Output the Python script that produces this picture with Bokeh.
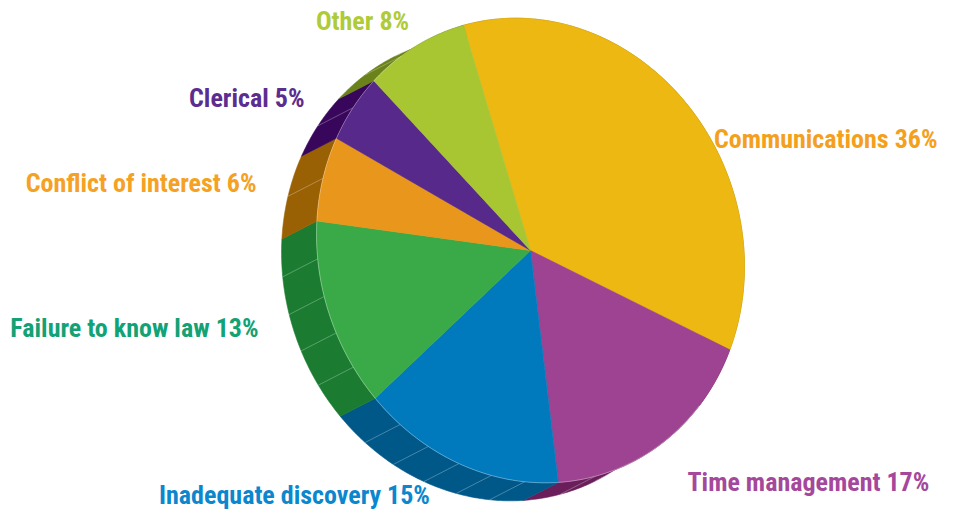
import numpy as np
from bokeh.plotting import figure
from bokeh.models import Range1d
from bokeh.core.properties import value
from bokeh.embed import file_html
from bokeh.resources import INLINE

# ---- data ----
categories = ["Communications", "Time management", "Inadequate discovery",
              "Failure to know law", "Conflict of interest", "Clerical", "Other"]
percents = [36, 17, 15, 13, 6, 5, 8]

# ---- styles ----
top_colors = ["#EDB811", "#9E4391", "#0079BD", "#3AAA48", "#E8961C", "#57298A", "#A8C532"]
side_colors = ["#9A7A05", "#6A1F5A", "#005889", "#1B7C31", "#9A6104", "#38075B", "#6A8219"]
label_colors = ["#F5A01C", "#A5489B", "#0C87CE", "#12A275", "#F5A124", "#5C2D90", "#AFCB38"]

# ---- layout (screen pixels, y down) ----
W, H = 939, 510
CX, CY = 530.0, 250.0
RA, RB = 235.0, 211.0
AX1, AX2 = np.deg2rad(340), np.deg2rad(70)
E1 = (np.sin(AX1), -np.cos(AX1))
E2 = (np.sin(AX2), -np.cos(AX2))
DX, DY = -35.0, 18.0
PSI0 = 3.8
FONT = "'Roboto Condensed', 'Liberation Sans Narrow', 'DejaVu Sans Condensed', sans-serif"
FSIZE = "26px"
# label anchors: (x, y, align)
label_pos = [(937, 138, "right"), (687, 481, "left"), (294, 494, "center"),
             (258, 327, "right"), (256, 182, "right"), (304, 97, "right"),
             (362, 20, "center")]


def rim(psi_deg):
    t = np.deg2rad(psi_deg)
    x = CX + RA * np.cos(t) * E1[0] + RB * np.sin(t) * E2[0]
    y = CY + RA * np.cos(t) * E1[1] + RB * np.sin(t) * E2[1]
    return x, y


p = figure(width=W, height=H, output_backend="svg", toolbar_location=None,
           x_range=Range1d(0, W), y_range=Range1d(H, 0),
           min_border=0, outline_line_color=None)
p.axis.visible = False
p.grid.visible = False
p.background_fill_color = "white"
p.border_fill_color = "white"

total = float(sum(percents))
starts, ends = [], []
acc = 0.0
for v in percents:
    starts.append(PSI0 + acc / total * 360.0)
    acc += v
    ends.append(PSI0 + acc / total * 360.0)

# side strips
side_xs, side_ys = [], []
for s, e in zip(starts, ends):
    ps = np.linspace(s, e, 80)
    x, y = rim(ps)
    side_xs.append(list(np.concatenate([x, (x + DX)[::-1]])))
    side_ys.append(list(np.concatenate([y, (y + DY)[::-1]])))
p.patches(xs=side_xs, ys=side_ys, fill_color=side_colors, line_color=side_colors,
          line_width=0.6)

# facet lines on side
fx, fy = [], []
for s, e in zip(starts, ends):
    n = max(2, int(round((e - s) / 9.5)))
    for k in range(1, n):
        ps = s + (e - s) * k / n
        x, y = rim(ps)
        fx.append([float(x), float(x + DX)])
        fy.append([float(y), float(y + DY)])
p.multi_line(xs=fx, ys=fy, line_color="white", line_alpha=0.35, line_width=0.8)

# top faces
top_xs, top_ys = [], []
for s, e in zip(starts, ends):
    ps = np.linspace(s, e, 120)
    x, y = rim(ps)
    top_xs.append([CX] + list(x) + [CX])
    top_ys.append([CY] + list(y) + [CY])
p.patches(xs=top_xs, ys=top_ys, fill_color=top_colors, line_color=top_colors,
          line_width=0.6)

# rim highlight
ps = np.linspace(150, 345, 300)
rx, ry = rim(ps)
p.line(x=rx, y=ry, line_color="white", line_alpha=0.4, line_width=0.8)

# labels
for cat, v, col, (lx, ly, al) in zip(categories, percents, label_colors, label_pos):
    p.text(x=[lx], y=[ly], text=[f"{cat} {v}%"], text_color=col,
           text_font=value(FONT), text_font_size=FSIZE, text_font_style="bold",
           text_align=al, text_baseline="alphabetic")

open("out.html", "w").write(file_html(p, INLINE))
